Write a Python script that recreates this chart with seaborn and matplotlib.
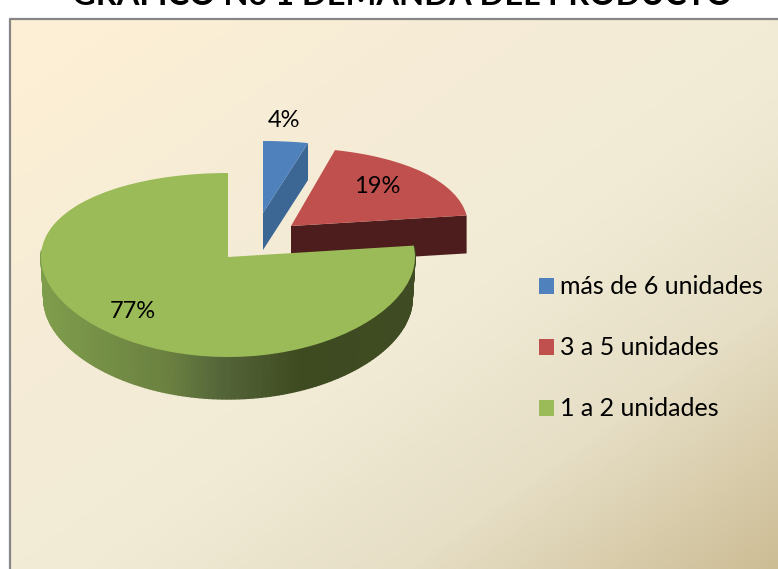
import numpy as np
import matplotlib
matplotlib.use("Agg")
import matplotlib.pyplot as plt
from matplotlib.transforms import Transform
import seaborn as sns

# Chart data
categories = ["más de 6 unidades", "3 a 5 unidades", "1 a 2 unidades"]
percentages = [4, 19, 77]
title_text = "GRÁFICO No 1 DEMANDA DEL PRODUCTO"

# Colours
top_colors = ["#4f81bd", "#c0504d", "#9bbb59"]
blue_side = "#3c6694"
red_side = "#4d1d1d"
green_side = ["#7f9e4c", "#6a8040", "#55663a", "#3e4a20", "#3f4b22"]
green_side_x = [40, 170, 220, 303, 414]
background = ["#fef0d5", "#f6ecd6", "#f1ebd6", "#e6dec5", "#cdbd95"]
background_stops = [0, 0.3, 0.55, 0.76, 1]

# Layout in pixels: tip x, tip y, radius x, y scale, depth
slice_layout = [(263, 213, 181, 0.857, 37),
                (291, 226, 177, 0.93, 38),
                (228, 257, 187, 1.0, 42)]
label_pos = [(284, 120), (377, 186), (133, 311)]


def tilt(x, y, tip_x, tip_y, rx, scale):
    # flatten the unit pie, the near half a bit bigger than the far half
    return tip_x + rx * x, tip_y + scale * (-92 * y + 8 * y ** 2)


class TiltTransform(Transform):
    input_dims = 2
    output_dims = 2

    def __init__(self, tip_x, tip_y, rx, scale):
        super().__init__()
        self.args = (tip_x, tip_y, rx, scale)

    def transform_non_affine(self, values):
        px, py = tilt(values[:, 0], values[:, 1], *self.args)
        return np.column_stack([px, py])


def rim(deg, layout):
    a = np.radians(deg)
    return tilt(np.cos(a), np.sin(a), *layout[:4])


sns.set_theme(style="white")
plt.rcParams["font.family"] = ["Lato", "DejaVu Sans"]

fig = plt.figure(figsize=(7.78, 5.69), dpi=100)
ax = fig.add_axes([0, 0, 1, 1])

# Parchment gradient background
xx, yy = np.meshgrid(np.linspace(0, 1, 400), np.linspace(0, 1, 300))
shade = np.interp((xx + yy) / 2, background_stops, np.linspace(0, 1, len(background)))
ax.imshow(shade, cmap=sns.blend_palette(background, n_colors=256, as_cmap=True),
          extent=(10, 778, 569, 19), aspect="auto", vmin=0, vmax=1, zorder=0)
ax.plot([10, 10, 778], [569, 19, 19], color="#868686", lw=1.6, zorder=1)

wedges, _ = ax.pie(percentages, colors=top_colors, startangle=90, counterclock=False, frame=True)
ax.set_aspect("auto")

# Top faces
for i, wedge in enumerate(wedges):
    wedge.set_transform(TiltTransform(*slice_layout[i][:4]) + ax.transData)
    wedge.set_zorder(3 + 2 * i)
    wedge.set_edgecolor("none")

# Flat cut faces of the blue and red slices
for i, side in enumerate([blue_side, red_side]):
    layout = slice_layout[i]
    ex, ey = rim(wedges[i].theta1, layout)
    d = layout[4]
    ax.fill([layout[0], ex, ex, layout[0]], [layout[1], ey, ey + d, layout[1] + d],
            color=side, lw=0, zorder=2 + 2 * i)

# Curved outer wall of the green slice
layout = slice_layout[2]
side_cmap = sns.blend_palette(green_side, n_colors=256, as_cmap=True)
angles = np.linspace(-184, wedges[2].theta2, 140)
for a0, a1 in zip(angles[:-1], angles[1:]):
    x0, y0 = rim(a0, layout)
    x1, y1 = rim(a1, layout)
    bx0 = layout[0] + (x0 - layout[0]) * 0.985
    bx1 = layout[0] + (x1 - layout[0]) * 0.985
    pos = np.interp((x0 + x1) / 2, green_side_x, np.linspace(0, 1, len(green_side)))
    color = side_cmap(pos)
    ax.fill([x0, x1, bx1, bx0], [y0, y1, y1 + layout[4], y0 + layout[4]],
            facecolor=color, edgecolor=color, lw=1, zorder=6)

# Percent labels
for pct, (lx, ly) in zip(percentages, label_pos):
    ax.text(lx, ly, f"{pct}%", ha="center", va="center", fontsize=17, color="black", zorder=10)

# Title is cut by the top of the image
ax.text(402, 5, title_text, ha="center", va="baseline", fontsize=23.5, fontweight="bold",
        color="black", zorder=10)

ax.legend(wedges, categories, loc="upper left", bbox_to_anchor=(531 / 778, 1 - 268 / 569),
          frameon=False, fontsize=18, labelcolor="black", handlelength=0.6, handleheight=0.6,
          handletextpad=0.25, labelspacing=1.52, borderpad=0.3, borderaxespad=0)

ax.set_xlim(0, 778)
ax.set_ylim(569, 0)
ax.axis("off")
fig.savefig("out.png", dpi=100)
